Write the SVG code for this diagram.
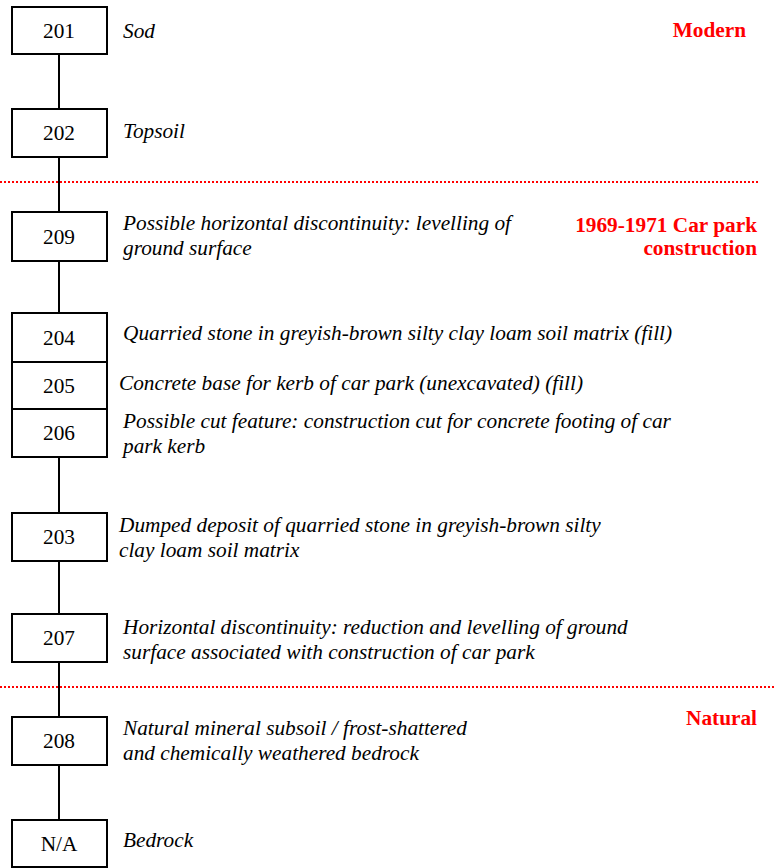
<svg xmlns="http://www.w3.org/2000/svg" width="778" height="868" viewBox="0 0 778 868">
<style>
.box{fill:#fff;stroke:#000;stroke-width:2}
text{font-family:'Liberation Serif','Times New Roman',Times,serif;font-size:21.3px}
.num{text-anchor:middle;fill:#000}
.desc{font-style:italic;fill:#000}
.period{font-weight:bold;fill:#ff0000;text-anchor:end}
.conn{stroke:#000;stroke-width:2;fill:none}
.div{stroke:#ff0000;stroke-width:2;stroke-dasharray:2 2;fill:none}
</style>
<g id="connectors">
<line class="conn" x1="59" y1="54" x2="59" y2="109"/>
<line class="conn" x1="59" y1="157" x2="59" y2="212"/>
<line class="conn" x1="59" y1="261" x2="59" y2="313"/>
<line class="conn" x1="59" y1="457" x2="59" y2="513"/>
<line class="conn" x1="59" y1="561" x2="59" y2="614"/>
<line class="conn" x1="59" y1="662" x2="59" y2="717"/>
<line class="conn" x1="59" y1="765" x2="59" y2="820"/>
</g>
<g id="dividers">
<line class="div" x1="0" y1="182" x2="760" y2="182"/>
<line class="div" x1="0" y1="687" x2="776" y2="687"/>
</g>
<g id="n201"><rect class="box" x="12" y="7" width="95" height="47"/><text class="num" x="59" y="38">201</text><text class="desc" x="123" y="38">Sod</text></g>
<g id="n202"><rect class="box" x="12" y="109" width="95" height="48"/><text class="num" x="59" y="140">202</text><text class="desc" x="123" y="138">Topsoil</text></g>
<g id="n209"><rect class="box" x="12" y="212" width="95" height="49"/><text class="num" x="59" y="244">209</text><text class="desc" x="123" y="230">Possible horizontal discontinuity: levelling of</text><text class="desc" x="123" y="255">ground surface</text></g>
<g id="n204"><rect class="box" x="12" y="313" width="95" height="49"/><text class="num" x="59" y="345">204</text><text class="desc" x="123" y="340">Quarried stone in greyish-brown silty clay loam soil matrix (fill)</text></g>
<g id="n205"><rect class="box" x="12" y="362" width="95" height="47"/><text class="num" x="59" y="393">205</text><text class="desc" x="119" y="390">Concrete base for kerb of car park (unexcavated) (fill)</text></g>
<g id="n206"><rect class="box" x="12" y="409" width="95" height="48"/><text class="num" x="59" y="440">206</text><text class="desc" x="123" y="428">Possible cut feature: construction cut for concrete footing of car</text><text class="desc" x="123" y="453">park kerb</text></g>
<g id="n203"><rect class="box" x="12" y="513" width="95" height="48"/><text class="num" x="59" y="544">203</text><text class="desc" x="119" y="532">Dumped deposit of quarried stone in greyish-brown silty</text><text class="desc" x="119" y="557">clay loam soil matrix</text></g>
<g id="n207"><rect class="box" x="12" y="614" width="95" height="48"/><text class="num" x="59" y="645">207</text><text class="desc" x="123" y="634">Horizontal discontinuity: reduction and levelling of ground</text><text class="desc" x="123" y="659">surface associated with construction of car park</text></g>
<g id="n208"><rect class="box" x="12" y="717" width="95" height="48"/><text class="num" x="59" y="748">208</text><text class="desc" x="123" y="735">Natural mineral subsoil / frost-shattered</text><text class="desc" x="123" y="760">and chemically weathered bedrock</text></g>
<g id="nNA"><rect class="box" x="12" y="820" width="95" height="47"/><text class="num" x="59" y="851">N/A</text><text class="desc" x="123" y="847">Bedrock</text></g>
<g id="periods">
<text class="period" x="746" y="37">Modern</text>
<text class="period" x="757" y="232">1969-1971 Car park</text>
<text class="period" x="757" y="255">construction</text>
<text class="period" x="757" y="725">Natural</text>
</g>
</svg>
